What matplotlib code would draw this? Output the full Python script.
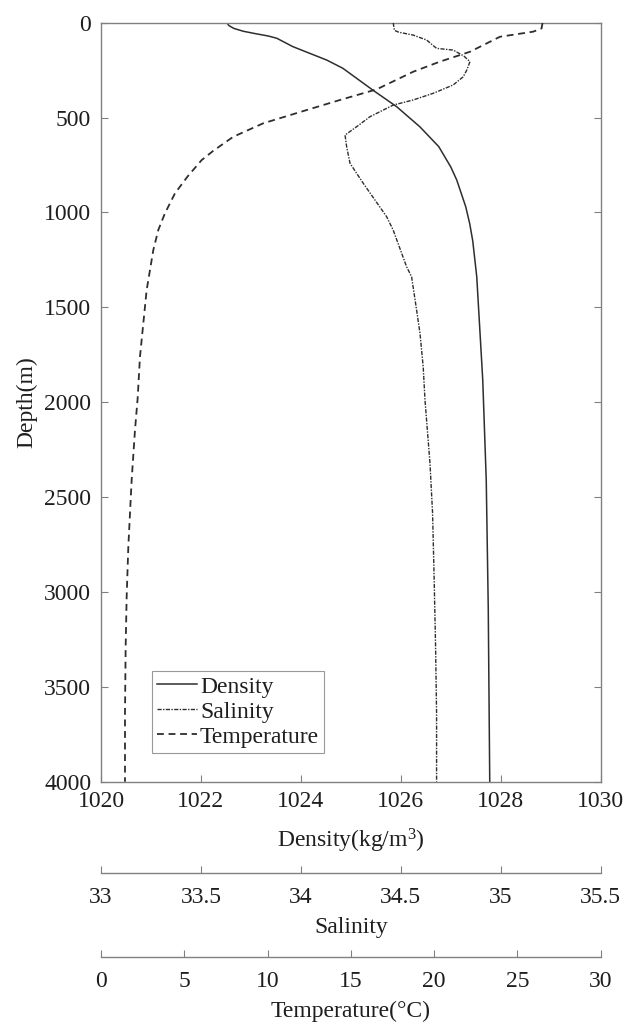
import numpy as np
import matplotlib
matplotlib.use('Agg')
import matplotlib.pyplot as plt

plt.rcParams['font.family'] = ['Liberation Serif', 'DejaVu Serif']
plt.rcParams['mathtext.fontset'] = 'custom'
plt.rcParams['mathtext.rm'] = 'Liberation Serif'
plt.rcParams['mathtext.it'] = 'Liberation Serif:italic'

# 밀도 프로파일 (depth m, kg/m^3)
dens_depth = [0, 15, 30, 45, 58, 70, 82, 126, 197, 240, 355, 443, 548, 653, 760, 829,
              970, 1060, 1150, 1339, 1655, 1883, 2410, 3080, 4000]
dens_val = [1022.52, 1022.56, 1022.66, 1022.85, 1023.10, 1023.35, 1023.52, 1023.84,
            1024.52, 1024.84, 1025.44, 1025.92, 1026.38, 1026.76, 1027.00, 1027.12,
            1027.30, 1027.38, 1027.44, 1027.52, 1027.59, 1027.64, 1027.71, 1027.75,
            1027.78]

# 염분 프로파일
sal_depth = [0, 40, 50, 65, 91, 135, 144, 175, 205, 250, 285, 328, 372, 407, 434, 495,
             548, 592, 653, 741, 846, 1022, 1093, 1286, 1339, 1514, 1637, 1813, 1988,
             2322, 2585, 2937, 3288, 3640, 4000]
sal_val = [34.462, 34.468, 34.49, 34.562, 34.629, 34.679, 34.762, 34.815, 34.846,
           34.830, 34.812, 34.762, 34.662, 34.562, 34.462, 34.346, 34.279, 34.221,
           34.229, 34.246, 34.312, 34.429, 34.462, 34.529, 34.554, 34.579, 34.596,
           34.612, 34.621, 34.646, 34.659, 34.667, 34.674, 34.679, 34.679]

# 수온 프로파일 (°C)
temp_depth = [0, 30, 47, 74, 153, 205, 258, 351, 407, 460, 530, 601, 675, 724, 810, 899,
              1004, 1092, 1198, 1409, 1584, 1760, 1979, 2147, 2410, 2761, 3025, 3288,
              3640, 4000]
temp_val = [26.51, 26.45, 25.95, 23.95, 22.15, 20.35, 18.75, 16.55, 14.35, 12.35, 9.74,
            7.94, 6.74, 6.04, 5.20, 4.44, 3.84, 3.44, 3.14, 2.74, 2.54, 2.34, 2.20,
            2.04, 1.84, 1.64, 1.54, 1.48, 1.44, 1.44]

depth_ticks = np.arange(0, 4001, 500)
dens_ticks = np.arange(1020, 1031, 2)
sal_ticks = [33, 33.5, 34, 34.5, 35, 35.5]
sal_ticklabels = ['33', '33.5', '34', '34.5', '35', '35.5']
temp_ticks = np.arange(0, 31, 5)

fs = 17
spine_c = '#808080'
line_c = '#2e2e2e'
txt_c = '#1e1e1e'

fig = plt.figure(figsize=(6.27, 10.29), dpi=100)
L, W = 0.1611, 0.7969
ax = fig.add_axes([L, 0.2403, W, 0.7376])

# 밀도
l1, = ax.plot(dens_val, dens_depth, '-', color=line_c, lw=1.1, label='Density')
ax.set_xlim(1020, 1030)
ax.set_ylim(4000, 0)
ax.set_xticks(dens_ticks)
ax.set_yticks(depth_ticks)
ax.tick_params(direction='in', length=5, width=0.8, color=spine_c, labelsize=fs,
               labelcolor=txt_c, top=True, right=True, pad=7)
for s in ax.spines.values():
    s.set_color(spine_c)
    s.set_linewidth(1.0)
ax.set_xlabel(r'Density(kg/m$^{3}$)', fontsize=fs, color=txt_c, labelpad=10)
ax.set_ylabel('Depth(m)', fontsize=fs, color=txt_c, labelpad=5)

# 염분 (twin)
ax_s = ax.twiny()
l2, = ax_s.plot(sal_val, sal_depth, color=line_c, lw=1.0, linestyle=(0, (3, 1, 1, 1)),
                label='Salinity')
ax_s.set_xlim(33, 35.5)
ax_s.xaxis.set_visible(False)
for s in ax_s.spines.values():
    s.set_visible(False)

# 수온 (twin)
ax_t = ax.twiny()
l3, = ax_t.plot(temp_val, temp_depth, color=line_c, lw=1.3, linestyle=(0, (3.8, 2.6)),
                label='Temperature')
ax_t.set_xlim(0, 30)
ax_t.xaxis.set_visible(False)
for s in ax_t.spines.values():
    s.set_visible(False)

leg = ax_t.legend(handles=[l1, l2, l3], loc='lower left', bbox_to_anchor=(0.1015, 0.038),
                  borderaxespad=0, fontsize=fs, frameon=True, fancybox=False,
                  handlelength=1.7, handletextpad=0.12, labelspacing=0.15,
                  borderpad=0.22)
leg.get_frame().set_edgecolor(spine_c)
leg.get_frame().set_linewidth(0.8)
for t in leg.get_texts():
    t.set_color(txt_c)


def extra_axis(ypos, lim, ticks, ticklabels, label):
    a = fig.add_axes([L, ypos, W, 1e-4])
    a.set_facecolor('none')
    for k in ['top', 'left', 'right']:
        a.spines[k].set_visible(False)
    a.spines['bottom'].set_color(spine_c)
    a.spines['bottom'].set_linewidth(1.0)
    a.set_yticks([])
    a.set_xlim(*lim)
    a.set_xticks(ticks)
    a.set_xticklabels(ticklabels)
    a.tick_params(axis='x', direction='in', length=5, width=0.8, color=spine_c,
                  labelsize=fs, labelcolor=txt_c, pad=10)
    a.set_xlabel(label, fontsize=fs, color=txt_c, labelpad=7)
    return a


extra_axis(0.1519, (33, 35.5), sal_ticks, sal_ticklabels, 'Salinity')
extra_axis(0.0703, (0, 30), temp_ticks, [str(v) for v in temp_ticks], 'Temperature(°C)')

fig.savefig('out.png', dpi=100)
